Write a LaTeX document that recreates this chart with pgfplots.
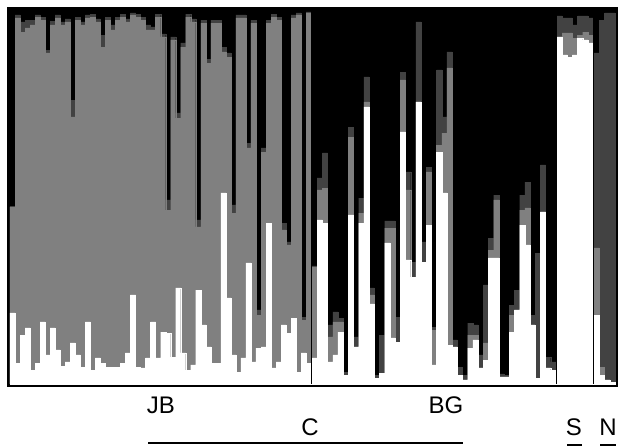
\documentclass[border=0pt]{standalone}
\usepackage{pgfplots}
\usepackage{pgfplotstable}
\pgfplotsset{compat=1.18}
\usepackage{fontspec}
\setmainfont{Liberation Sans}

\definecolor{kgray}{RGB}{128,128,128}
\definecolor{kdark}{RGB}{66,66,66}

% cumulative membership per individual: w = cluster 1 (white),
% g = w + cluster 2 (grey), d = g + cluster 3 (dark grey); cluster 4 (black) is the rest up to 1
\pgfplotstableread{
i w g d
0 0.190 0.473 0.475
1 0.056 0.979 0.987
2 0.131 0.941 0.968
3 0.150 0.952 0.973
4 0.037 0.960 0.973
5 0.056 0.981 0.987
6 0.166 0.973 0.981
7 0.078 0.885 0.893
8 0.150 0.960 0.970
9 0.091 0.979 0.987
10 0.048 0.960 0.968
11 0.059 0.968 0.976
12 0.110 0.714 0.759
13 0.078 0.973 0.981
14 0.045 0.960 0.968
15 0.166 0.979 0.987
16 0.037 0.981 0.989
17 0.070 0.968 0.976
18 0.056 0.901 0.933
19 0.045 0.973 0.981
20 0.045 0.947 0.960
21 0.045 0.973 0.981
22 0.056 0.981 0.989
23 0.083 0.968 0.976
24 0.238 0.987 0.992
25 0.045 0.981 0.989
26 0.043 0.973 0.981
27 0.070 0.947 0.960
28 0.166 0.947 0.955
29 0.070 0.981 0.989
30 0.139 0.928 0.936
31 0.136 0.465 0.492
32 0.072 0.920 0.928
33 0.257 0.711 0.725
34 0.083 0.901 0.912
35 0.037 0.981 0.989
36 0.051 0.968 0.976
37 0.251 0.420 0.439
38 0.158 0.965 0.973
39 0.099 0.858 0.868
40 0.056 0.965 0.973
41 0.056 0.965 0.973
42 0.511 0.888 0.901
43 0.230 0.874 0.885
44 0.078 0.457 0.479
45 0.032 0.979 0.987
46 0.070 0.979 0.987
47 0.324 0.631 0.644
48 0.059 0.965 0.973
49 0.096 0.184 0.198
50 0.099 0.620 0.631
51 0.430 0.965 0.973
52 0.043 0.981 0.989
53 0.059 0.973 0.981
54 0.158 0.412 0.430
55 0.136 0.372 0.380
56 0.176 0.979 0.987
57 0.032 0.987 0.992
58 0.083 0.171 0.179
59 0.056 0.992 0.995
}\jb

\pgfplotstableread{
i w g d
0 0.070 0.313 0.316
1 0.439 0.519 0.551
2 0.430 0.524 0.618
3 0.059 0.126 0.158
4 0.078 0.166 0.193
5 0.139 0.166 0.176
6 0.024 0.024 0.032
7 0.452 0.660 0.687
8 0.099 0.099 0.126
9 0.430 0.457 0.497
10 0.741 0.754 0.821
11 0.214 0.238 0.257
12 0.016 0.016 0.024
13 0.029 0.029 0.131
14 0.377 0.417 0.436
15 0.123 0.417 0.436
16 0.112 0.112 0.179
17 0.674 0.813 0.834
18 0.332 0.519 0.567
19 0.286 0.286 0.326
20 0.754 0.754 0.968
21 0.326 0.326 0.380
22 0.425 0.567 0.580
23 0.051 0.144 0.152
24 0.620 0.639 0.840
25 0.511 0.671 0.714
26 0.104 0.845 0.888
27 0.099 0.099 0.118
28 0.024 0.024 0.045
29 0.011 0.011 0.024
30 0.096 0.131 0.163
31 0.118 0.131 0.158
32 0.043 0.043 0.078
33 0.064 0.110 0.265
34 0.337 0.358 0.390
35 0.337 0.492 0.505
36 0.019 0.019 0.027
37 0.019 0.019 0.024
38 0.139 0.184 0.211
39 0.198 0.198 0.251
40 0.425 0.465 0.505
41 0.372 0.471 0.540
42 0.158 0.158 0.184
43 0.016 0.016 0.350
44 0.460 0.460 0.586
45 0.043 0.043 0.072
46 0.037 0.037 0.059
}\bg

\pgfplotstableread{
i w g d
0 0.928 0.928 0.984
1 0.880 0.939 0.979
2 0.874 0.939 0.979
3 0.880 0.925 0.960
4 0.925 0.933 0.984
5 0.920 0.941 0.984
6 0.912 0.933 0.979
}\spop

\pgfplotstableread{
i w g d
0 0.184 0.364 0.885
1 0.024 0.045 0.973
2 0.011 0.011 0.992
3 0.005 0.005 0.992
}\npop

% #1 table, #2 left edge (px), #3 bar width (px)
\newcommand{\popbars}[3]{%
  \addplot[ybar, bar shift=0pt, bar width=#3, fill=kdark, draw=kdark, line width=0.1pt]
    table[x expr={#2+#3*(\thisrow{i}+0.5)}, y=d] {#1};
  \addplot[ybar, bar shift=0pt, bar width=#3, fill=kgray, draw=kgray, line width=0.1pt]
    table[x expr={#2+#3*(\thisrow{i}+0.5)}, y=g] {#1};
  \addplot[ybar, bar shift=0pt, bar width=#3, fill=white, draw=white, line width=0.1pt]
    table[x expr={#2+#3*(\thisrow{i}+0.5)}, y=w] {#1};
}

\begin{document}
\begin{tikzpicture}
\begin{axis}[
  at={(0,0)}, anchor=south west,
  scale only axis, width=304pt, height=188.5pt,
  xmin=8.5, xmax=616.5, ymin=-0.004, ymax=1.004,
  xtick=\empty, ytick=\empty,
  axis line style={line width=1.5pt},
  axis background/.style={fill=black},
]
\popbars{\jb}{10}{5.02}
\popbars{\bg}{312}{5.19}
\popbars{\spop}{557}{5.14}
\popbars{\npop}{594}{5.25}
\draw[black, line width=0.6pt] (axis cs:311.5,0) -- (axis cs:311.5,1);
\draw[black, line width=0.6pt] (axis cs:556.5,0) -- (axis cs:556.5,1);
\draw[black, line width=0.6pt] (axis cs:593.5,0) -- (axis cs:593.5,1);
\end{axis}
\path[use as bounding box] (-4.25pt,-31.25pt) rectangle (306.75pt,192.75pt);
\begin{scope}[x=0.5pt, y=-0.5pt, shift={(-4.25pt,192.75pt)}]
  \tikzset{lab/.style={anchor=base, inner sep=0pt, font=\fontsize{12}{14}\selectfont}}
  \node[lab] at (161,414) {JB};
  \node[lab] at (446,414) {BG};
  \node[lab] at (310,436) {C};
  \node[lab] at (574,436) {S};
  \node[lab] at (608,436) {N};
  \draw[line width=1pt] (148,443.5) -- (463,443.5);
  \draw[line width=1pt] (567,445) -- (582,445);
  \draw[line width=1pt] (600,445) -- (616,445);
\end{scope}
\end{tikzpicture}
\end{document}
